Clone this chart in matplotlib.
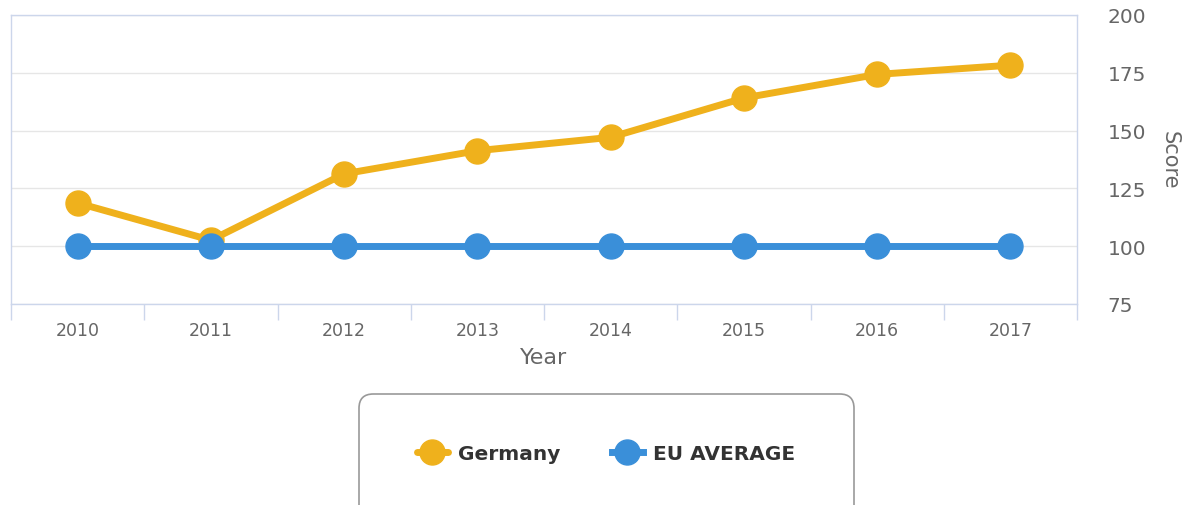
import matplotlib.pyplot as plt
from matplotlib.patches import FancyBboxPatch
from matplotlib.ticker import FixedLocator

# Data
years = ['2010', '2011', '2012', '2013', '2014', '2015', '2016', '2017']
germany = [118.7, 102.6, 131.3, 141.3, 147.1, 164.1, 174.3, 178.3]
eu_average = [100, 100, 100, 100, 100, 100, 100, 100]
score_ticks = [75, 100, 125, 150, 175, 200]

# Colours
germany_color = '#EFB11C'
eu_color = '#3A8FD9'
frame_color = '#CCD6EB'
grid_color = '#E6E6E6'
label_color = '#666666'

plt.rcParams['font.family'] = ['DejaVu Sans']

fig = plt.figure(figsize=(11.9, 5.06), dpi=100)
ax = fig.add_axes([11 / 1190, 1 - 305 / 506, (1077 - 11) / 1190, (305 - 16) / 506])

x = list(range(len(years)))
ax.plot(x, germany, color=germany_color, lw=5, marker='o', ms=18,
        label='Germany', zorder=3, solid_capstyle='round')
ax.plot(x, eu_average, color=eu_color, lw=5, marker='o', ms=18,
        label='EU AVERAGE', zorder=4)

ax.set_xlim(-0.5, len(years) - 0.5)
ax.set_ylim(75, 200)

# Y axis on the right, no tick marks
ax.yaxis.tick_right()
ax.yaxis.set_label_position('right')
ax.set_yticks(score_ticks)
ax.tick_params(axis='y', length=0, pad=22, labelsize=14.5, labelcolor=label_color)
ax.set_ylabel('Score', rotation=270, fontsize=15, color=label_color, labelpad=24)

# X axis: labels at centres, tick lines at category boundaries
ax.set_xticks(x)
ax.set_xticklabels(years)
ax.xaxis.set_minor_locator(FixedLocator([i - 0.5 for i in range(len(years) + 1)]))
ax.tick_params(axis='x', which='major', length=0, pad=12, labelsize=12.5, labelcolor=label_color)
ax.tick_params(axis='x', which='minor', length=11.5, width=1, color=frame_color)
ax.set_xlabel('Year', fontsize=16, color=label_color, labelpad=6)

ax.grid(axis='y', color=grid_color, lw=1)
ax.set_axisbelow(True)
for side in ['left', 'right', 'top', 'bottom']:
    ax.spines[side].set_color(frame_color)
    ax.spines[side].set_linewidth(1)

# Legend with rounded box running off the bottom of the figure
box = FancyBboxPatch((359 / 1190, -0.05), (854 - 359) / 1190, (0.05 + 1 - 395 / 506),
                     boxstyle='round,pad=0,rounding_size=0.012',
                     transform=fig.transFigure, fill=False,
                     edgecolor='#999999', lw=1.2, mutation_aspect=1190 / 506)
fig.patches.append(box)

leg = fig.legend(loc='center', bbox_to_anchor=(606 / 1190, 1 - 455 / 506), ncol=2,
                 frameon=False, handlelength=1.5, handletextpad=0.5, columnspacing=2.6,
                 prop={'weight': 'bold', 'size': 14.5})
for text in leg.get_texts():
    text.set_color('#333333')

fig.savefig('out.png', dpi=100)
